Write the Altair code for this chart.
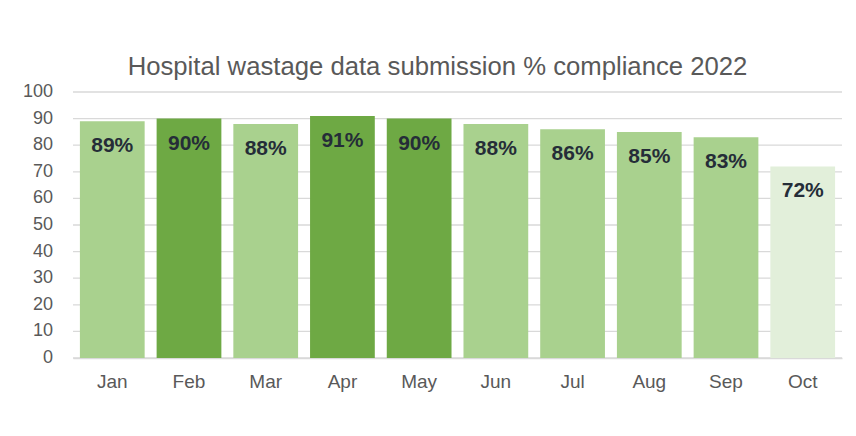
import altair as alt
import pandas as pd

months = ["Jan", "Feb", "Mar", "Apr", "May", "Jun", "Jul", "Aug", "Sep", "Oct"]
compliance = [89, 90, 88, 91, 90, 88, 86, 85, 83, 72]
y_ticks = [0, 10, 20, 30, 40, 50, 60, 70, 80, 90, 100]
title_text = "Hospital wastage data submission % compliance 2022"

df = pd.DataFrame({"month": months, "value": compliance})
df["label"] = df["value"].astype(str) + "%"
ticks_df = pd.DataFrame({"value": y_ticks})
ticks_df["tlabel"] = ticks_df["value"].astype(str)

FONT = "Liberation Sans"
y_scale = alt.Scale(domain=[0, 100], nice=False)

grid = alt.Chart(ticks_df).mark_rule(color="#d9d9d9", strokeWidth=1.3).encode(
    y=alt.Y("value:Q", scale=y_scale, axis=None),
)

ylabels = alt.Chart(ticks_df).mark_text(align="right", baseline="middle", font=FONT,
                                        fontSize=18, color="#595959").encode(
    y=alt.Y("value:Q", scale=y_scale, axis=None),
    x=alt.value(-20),
    text="tlabel:N",
)

base = alt.Chart(df).encode(
    x=alt.X("month:N", sort=months, title=None,
            scale=alt.Scale(paddingInner=0.156, paddingOuter=0.09),
            axis=alt.Axis(labelAngle=0, ticks=False, domain=True, domainColor="#d9d9d9",
                          domainWidth=1.3, labelFont=FONT, labelFontSize=19,
                          labelColor="#595959", labelPadding=14, grid=False)),
    y=alt.Y("value:Q", title=None, scale=y_scale, axis=None),
)

bars = base.mark_bar().encode(
    color=alt.Color("value:Q", legend=None,
                    scale=alt.Scale(type="threshold", domain=[80, 90],
                                    range=["#e2efda", "#a9d18e", "#6ea944"])),
)

labels = base.mark_text(baseline="alphabetic", dy=31, font=FONT, fontSize=21,
                        fontWeight="bold", color="#252d38").encode(
    text="label:N",
)

chart = alt.layer(grid, bars, labels, ylabels).properties(
    width=769, height=266,
    title=alt.TitleParams(title_text, font=FONT, fontSize=25.7, fontWeight="normal",
                          color="#595959", anchor="middle", dx=-20, offset=2),
    autosize=alt.AutoSizeParams(type="none"),
    padding={"left": 65, "top": 84, "right": 6, "bottom": 66},
).configure_view(stroke=None)

chart.save("out.html", embed_options={"renderer": "svg", "actions": False})
